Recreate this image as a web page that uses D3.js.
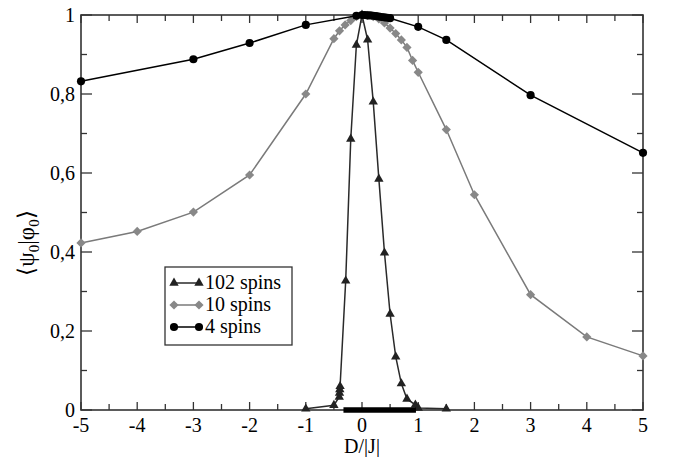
<!DOCTYPE html>
<html><head><meta charset="utf-8">
<script src="https://cdn.jsdelivr.net/npm/d3@7"></script>
</head><body style="margin:0;font-family:'Liberation Serif',serif"><svg id="c" width="673" height="457" font-family="Liberation Serif, Times New Roman, serif" style="display:block;background:#fff"></svg>
<script>
// ---- data ----
const xTicks = [-5,-4,-3,-2,-1,0,1,2,3,4,5];
const yTicks = [0,0.2,0.4,0.6,0.8,1];
const yTickLabels = ["0","0,2","0,4","0,6","0,8","1"];

const x4 = [-5,-3,-2,-1,-0.1,0,0.05,0.1,0.15,0.2,0.25,0.3,0.35,0.4,0.45,0.5,1,1.5,3,5];
const y4 = [0.832,0.888,0.929,0.975,0.998,1.0,1.0,0.999,0.999,0.998,0.997,0.996,0.995,0.994,0.993,0.992,0.97,0.937,0.797,0.651];

const x10 = [-5,-4,-3,-2,-1,-0.5,-0.4,-0.3,-0.2,-0.1,0,0.1,0.2,0.3,0.4,0.5,0.6,0.7,0.8,0.9,1,1.5,2,3,4,5];
const y10 = [0.423,0.452,0.501,0.595,0.8,0.94,0.96,0.975,0.986,0.996,1.0,0.999,0.996,0.99,0.98,0.967,0.953,0.937,0.918,0.885,0.855,0.71,0.545,0.292,0.185,0.137];

const x102 = [-1,-0.5,-0.405,-0.4,-0.395,-0.39,-0.29,-0.2,-0.1,0,0.1,0.2,0.3,0.4,0.5,0.6,0.7,0.8,0.95,1,1.5];
const y102 = [0.003,0.012,0.033,0.043,0.052,0.06,0.327,0.686,0.924,1.0,0.937,0.78,0.585,0.398,0.243,0.135,0.067,0.028,0.013,0.005,0.003];
// dense zero-overlap band of the 102-spin run
const band102X = [-0.33, 0.96];
const band102Y = [0, 0];

const seriesNames = ["102 spins","10 spins","4 spins"];

// ---- chart ----
const svg = d3.select("#c");
const L=81,R=643,T=15,B=410;
const xs = d3.scaleLinear().domain([-5,5]).range([L,R]);
const ys = d3.scaleLinear().domain([0,1]).range([B,T]);
const axisCol="#333";

function txt(sel,size){return sel.attr("font-family","Liberation Serif, Times New Roman, serif").style("font-size",size+"px");}

// frame
svg.append("rect").attr("x",L).attr("y",T).attr("width",R-L).attr("height",B-T)
  .attr("fill","none").attr("stroke",axisCol).attr("stroke-width",1.6);

// ticks (inward, all sides)
const xMinor = d3.range(-4.5,5,1);
const yMinor = d3.range(0.1,1,0.2);
function tk(x1,y1,x2,y2){svg.append("line").attr("x1",x1).attr("y1",y1).attr("x2",x2).attr("y2",y2).attr("stroke",axisCol).attr("stroke-width",1.3);}
xTicks.forEach(v=>{tk(xs(v),B,xs(v),B-8);tk(xs(v),T,xs(v),T+8);});
xMinor.forEach(v=>{tk(xs(v),B,xs(v),B-6);tk(xs(v),T,xs(v),T+6);});
yTicks.forEach(v=>{tk(L,ys(v),L+11,ys(v));tk(R,ys(v),R-11,ys(v));});
yMinor.forEach(v=>{tk(L,ys(v),L+6,ys(v));tk(R,ys(v),R-6,ys(v));});

// tick labels
xTicks.forEach(v=>{txt(svg.append("text").attr("x",xs(v)).attr("y",B+22).attr("text-anchor","middle"),20)
  .text(v<0?"-"+Math.abs(v):String(v));});
yTicks.forEach((v,i)=>{txt(svg.append("text").attr("x",L-6).attr("y",ys(v)+7).attr("text-anchor","end"),20)
  .text(yTickLabels[i]);});

// axis titles
txt(svg.append("text").attr("x",(L+R)/2).attr("y",453).attr("text-anchor","middle"),20).text("D/|J|");
const yl = txt(svg.append("text").attr("transform","translate(34,243) rotate(-90)").attr("text-anchor","middle"),23);
yl.append("tspan").text("\u27E8\u03C8");
yl.append("tspan").style("font-size","15px").attr("dy",5).text("0");
yl.append("tspan").attr("dy",-5).text("|\u03C6");
yl.append("tspan").style("font-size","15px").attr("dy",5).text("0");
yl.append("tspan").attr("dy",-5).text("\u27E9");

const line = d3.line().x(d=>xs(d[0])).y(d=>ys(d[1]));
const tri = d3.symbol().type(d3.symbolTriangle).size(38)();
const dia = "M0,-4.6L4.6,0L0,4.6L-4.6,0Z";
const circ = d3.symbol().type(d3.symbolCircle).size(52)();

const series = [
  {name:seriesNames[1], xs:x10, ys:y10, stroke:"#7a7a7a", fill:"#888", sym:dia},
  {name:seriesNames[0], xs:x102, ys:y102, stroke:"#2a2a2a", fill:"#222", sym:tri},
  {name:seriesNames[2], xs:x4, ys:y4, stroke:"#000", fill:"#000", sym:circ}
];
series.forEach(s=>{
  const pts = s.xs.map((v,i)=>[v,s.ys[i]]);
  svg.append("path").attr("d",line(pts)).attr("fill","none").attr("stroke",s.stroke).attr("stroke-width",1.5);
  svg.selectAll(null).data(pts).enter().append("path").attr("d",s.sym)
    .attr("transform",d=>`translate(${xs(d[0])},${ys(d[1])})`).attr("fill",s.fill);
  if(s.sym===tri){
    const bp = band102X.map((v,i)=>[v,band102Y[i]]);
    svg.append("path").attr("d",line(bp)).attr("stroke","#000").attr("stroke-width",5.5).attr("fill","none");
  }
});

// legend
const lg = svg.append("g");
lg.append("rect").attr("x",165).attr("y",267).attr("width",127).attr("height",78).attr("fill","#fff").attr("stroke",axisCol).attr("stroke-width",1.3);
const legItems = [
  {name:seriesNames[0], stroke:"#2a2a2a", fill:"#222", sym:tri},
  {name:seriesNames[1], stroke:"#7a7a7a", fill:"#888", sym:dia},
  {name:seriesNames[2], stroke:"#000", fill:"#000", sym:circ}
];
legItems.forEach((s,i)=>{
  const y = 283 + i*22;
  lg.append("line").attr("x1",174).attr("x2",199).attr("y1",y).attr("y2",y).attr("stroke",s.stroke).attr("stroke-width",1.5);
  [174,199].forEach(xx=>lg.append("path").attr("d",s.sym).attr("transform",`translate(${xx},${y})`).attr("fill",s.fill));
  txt(lg.append("text").attr("x",205).attr("y",y+6),20).text(s.name);
});
</script></body></html>
